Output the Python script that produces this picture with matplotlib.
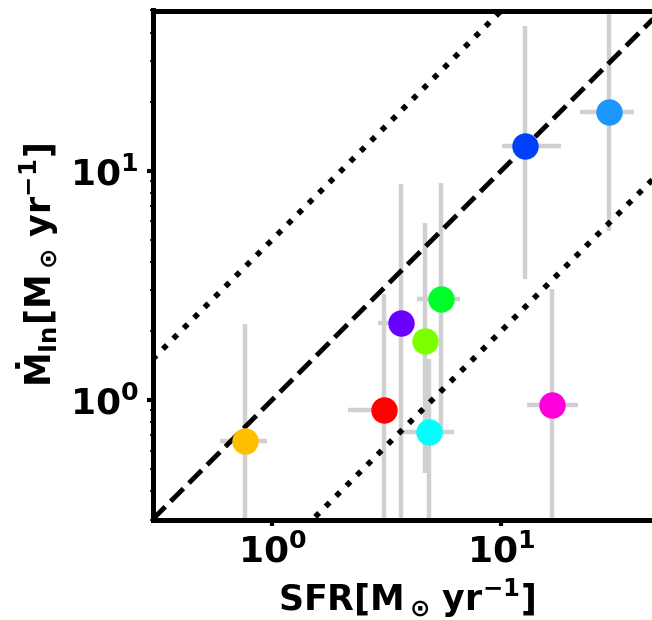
import matplotlib
matplotlib.use("Agg")
import matplotlib.pyplot as plt
import numpy as np

# Inflow rate vs SFR.
sfr = np.array([0.76, 3.08, 3.66, 4.66, 5.47, 4.85, 16.7, 12.7, 29.6])
sfr_lo = np.array([0.59, 2.15, 2.88, 4.45, 4.3, 3.7, 13.0, 10.1, 22.0])
sfr_hi = np.array([0.95, 3.3, 4.0, 4.9, 6.6, 6.2, 21.7, 18.3, 38.0])

mdot = np.array([0.66, 0.90, 2.16, 1.80, 2.75, 0.72, 0.95, 12.8, 18.0])
mdot_lo = np.array([0.1, 0.1, 0.1, 0.48, 0.72, 0.1, 0.1, 3.37, 5.45])
mdot_hi = np.array([2.14, 2.9, 8.7, 5.9, 8.8, 1.5, 3.05, 42.6, 80.0])

colors = ["#ffbf00", "#ff0000", "#6a00ff", "#7dff00", "#00ff2a",
          "#00ffff", "#ff00dc", "#0040ff", "#1e96ff"]

lims = (0.3, 50)
ratio = 5.0


def main():
    plt.rcParams.update({"font.weight": "bold", "font.size": 26,
                         "axes.labelweight": "bold"})

    fig = plt.figure(figsize=(6.52, 6.2), dpi=100)
    ax = fig.add_axes([152.5 / 652, 1 - 519.5 / 620, 509 / 652, 509 / 620])

    xerr = np.vstack([sfr - sfr_lo, sfr_hi - sfr])
    yerr = np.vstack([mdot - mdot_lo, mdot_hi - mdot])
    ax.errorbar(sfr, mdot, xerr=xerr, yerr=yerr, fmt="none",
                ecolor="#d0d0d0", elinewidth=3.2, capsize=0, zorder=1)

    xx = np.array(lims)
    ax.plot(xx, xx, "--", color="black", linewidth=3.5, zorder=2)
    ax.plot(xx, xx * ratio, ":", color="black", linewidth=4, zorder=2)
    ax.plot(xx, xx / ratio, ":", color="black", linewidth=4, zorder=2)

    for x, y, c in zip(sfr, mdot, colors):
        ax.plot(x, y, "o", color=c, markersize=19, markeredgewidth=0, zorder=3)

    ax.set_xscale("log")
    ax.set_yscale("log")
    ax.set_xlim(lims)
    ax.set_ylim(lims)

    for sp in ax.spines.values():
        sp.set_linewidth(3.6)
    ax.tick_params(which="major", direction="out", length=4, width=3, pad=6)
    ax.tick_params(which="minor", direction="out", length=2.5, width=1.2)

    ax.set_xlabel(r"$\mathbf{SFR[M_\odot\,yr^{-1}]}$", fontsize=25, labelpad=5)
    ax.set_ylabel(r"$\mathbf{\dot{M}_{In}[M_\odot\,yr^{-1}]}$", fontsize=25,
                  labelpad=6)

    fig.savefig("out.png", dpi=100)
    plt.close(fig)


if __name__ == "__main__":
    main()
